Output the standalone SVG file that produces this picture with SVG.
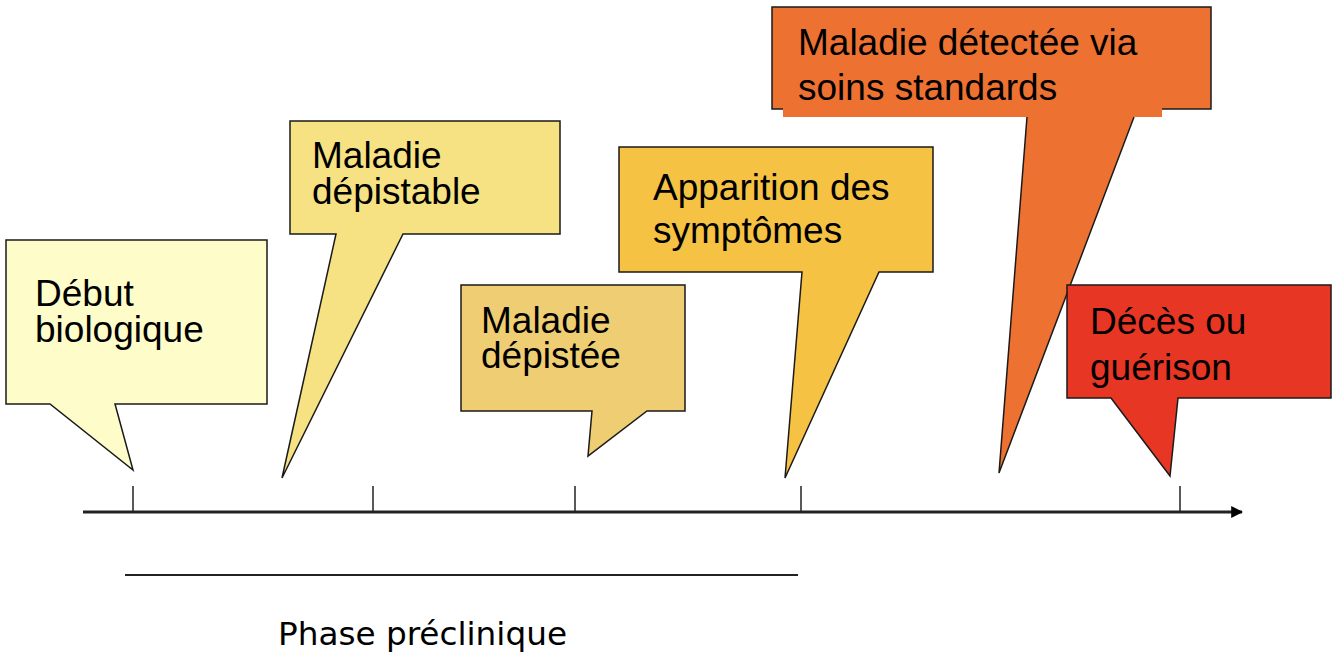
<svg xmlns="http://www.w3.org/2000/svg" width="1334" height="659" viewBox="0 0 1334 659">
<defs>
<style>
.co{stroke:#1a1a1a;stroke-width:1.5;stroke-linejoin:miter}
.t{font-family:"Liberation Sans",Arial,sans-serif;font-size:37px;fill:#000}
.ax{stroke:#222;fill:none}
</style>
<marker id="arr" viewBox="0 0 10 10" refX="9" refY="5" markerWidth="4" markerHeight="4" orient="auto" markerUnits="strokeWidth">
<path d="M0,0 L10,5 L0,10 Z" fill="#000"/>
</marker>
</defs>
<rect width="1334" height="659" fill="#fff"/>
<g id="connectors">
<line class="ax" x1="83" y1="512" x2="1242" y2="512" stroke-width="3" marker-end="url(#arr)"/>
<line class="ax" x1="133" y1="486" x2="133" y2="512" stroke-width="1.5"/>
<line class="ax" x1="373" y1="486" x2="373" y2="512" stroke-width="1.5"/>
<line class="ax" x1="575" y1="486" x2="575" y2="512" stroke-width="1.5"/>
<line class="ax" x1="801" y1="486" x2="801" y2="512" stroke-width="1.5"/>
<line class="ax" x1="1180" y1="486" x2="1180" y2="512" stroke-width="1.5"/>
<line class="ax" x1="125" y1="575" x2="798" y2="575" stroke-width="2"/>
</g>
<g id="phase">
<text x="278" y="645" font-family="'DejaVu Sans Condensed','DejaVu Sans',sans-serif" font-size="32" textLength="289" lengthAdjust="spacingAndGlyphs">Phase préclinique</text>
</g>
<g id="debut">
<path class="co" fill="#FEFDC9" d="M6,240 H267 V404 H115 L133,470 L50,404 H6 Z"/>
<text class="t" x="35" y="306">Début</text>
<text class="t" x="35" y="342">biologique</text>
</g>
<g id="depistable">
<path class="co" fill="#F6E282" d="M290,121 H560 V234 H403 L282,478 L336,234 H290 Z"/>
<text class="t" x="312" y="168">Maladie</text>
<text class="t" x="312" y="204">dépistable</text>
</g>
<g id="depistee">
<path class="co" fill="#EFCD72" d="M461,285 H685 V411 H647 L588,456 L592,411 H461 Z"/>
<text class="t" x="481" y="333">Maladie</text>
<text class="t" x="481" y="368">dépistée</text>
</g>
<g id="symptomes">
<path class="co" fill="#F5C243" d="M619,147 H933 V272 H879 L785,478 L802,272 H619 Z"/>
<text class="t" x="653" y="200">Apparition des</text>
<text class="t" x="653" y="243">symptômes</text>
</g>
<g id="detectee">
<rect class="co" fill="#ED7131" x="772" y="7" width="439" height="102"/>
<rect fill="#ED7131" x="783" y="108" width="379" height="9"/>
<path fill="#ED7131" d="M1027,116 L999,473 L1134,116 Z"/>
<path class="co" fill="none" d="M1027,117 L999,473 L1134,117"/>
<text class="t" x="798" y="55" font-size="37.6">Maladie détectée via</text>
<text class="t" x="798" y="100" font-size="37.6">soins standards</text>
</g>
<g id="deces">
<path class="co" fill="#E83625" d="M1067,285 H1331 V398 H1178 L1170,476 L1111,398 H1067 Z"/>
<text class="t" x="1090" y="334">Décès ou</text>
<text class="t" x="1090" y="380">guérison</text>
</g>
</svg>
